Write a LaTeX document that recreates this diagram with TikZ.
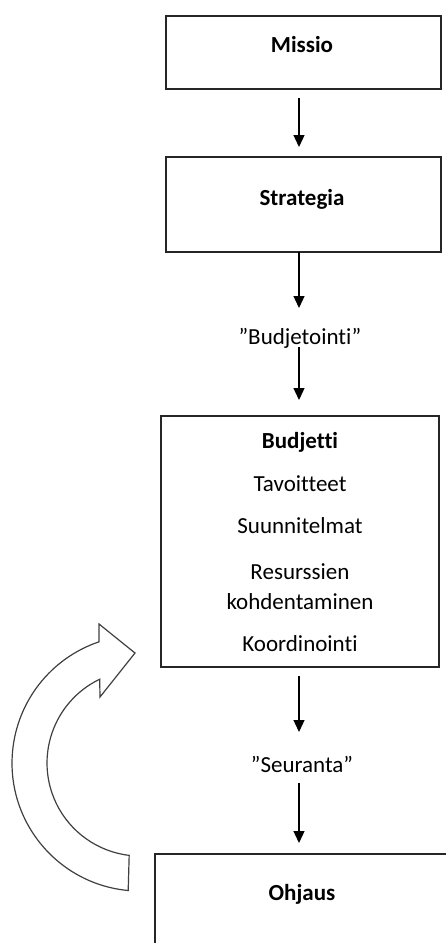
\documentclass[tikz,border=0pt]{standalone}
\usepackage{fontspec}
\setmainfont[Ligatures={NoCommon}]{Carlito}
\usetikzlibrary{arrows.meta}
\begin{document}
\begin{tikzpicture}[x=1pt,y=-1pt,
  box/.style={draw=black!85, line width=1.3pt, inner sep=0pt, outer sep=0pt, fill=white},
  lbl/.style={font=\fontsize{23}{29}\selectfont, text=black, inner sep=0pt, outer sep=0pt, text height=16pt, text depth=3pt, anchor=base},
  ttl/.style={lbl, font=\fontsize{23}{29}\selectfont\bfseries},
  arr/.style={draw=black, line width=1.3pt, -{Triangle[width=11pt,length=12pt]}},
  bigarrow/.style={draw=black!75, line width=1.2pt, fill=white, line join=miter}]
\useasboundingbox (0,0) rectangle (446,943);
\clip (0,0) rectangle (446,943);
\fill[white] (0,0) rectangle (446,943);

% boxes
\node[box, minimum width=275pt, minimum height=73pt, anchor=north west] (missio) at (166,16) {};
\node[box, minimum width=275pt, minimum height=95pt, anchor=north west] (strategia) at (166,157) {};
\node[box, minimum width=278pt, minimum height=251pt, anchor=north west] (budjetti) at (161,416) {};
\node[box, minimum width=330pt, minimum height=130pt, anchor=north west] (ohjaus) at (155,854) {};

% texts
\node[ttl] (tmissio) at (302,52) {Missio};
\node[ttl] (tstrategia) at (302,205) {Strategia};
\node[lbl] (budj) at (300,344) {”Budjetointi”};
\node[ttl] (tbudjetti) at (300,448) {Budjetti};
\node[lbl] (tavo) at (300,491) {Tavoitteet};
\node[lbl] (suun) at (300,533) {Suunnitelmat};
\node[lbl] (resu) at (300,579) {Resurssien};
\node[lbl] (kohd) at (300,609) {kohdentaminen};
\node[lbl] (koor) at (300,651) {Koordinointi};
\node[lbl] (seur) at (302,772) {”Seuranta”};
\node[ttl] (tohjaus) at (302,900) {Ohjaus};

% connectors
\coordinate (ax) at (299,0);
\draw[arr, shorten <=9pt, shorten >=10pt] (missio.south -| ax) -- (strategia.north -| ax);
\draw[arr, shorten >=20pt] (strategia.south -| ax) -- (budj.north -| ax);
\draw[arr, shorten >=16pt] (budj.south -| ax) -- (budjetti.north -| ax);
\draw[arr, shorten <=9pt, shorten >=24pt] (budjetti.south -| ax) -- (seur.north -| ax);
\draw[arr, shorten <=8pt, shorten >=11pt] (seur.south -| ax) -- (ohjaus.north -| ax);

% curved block arrow
\draw[bigarrow] (128.2,890.5) arc[start angle=95.3, end angle=251.3, radius=128]
  -- (99,624) -- (135,653) -- (100,697) -- (99.7,679.2)
  arc[start angle=244.3, end angle=96.7, radius=93] -- cycle;
\end{tikzpicture}
\end{document}
